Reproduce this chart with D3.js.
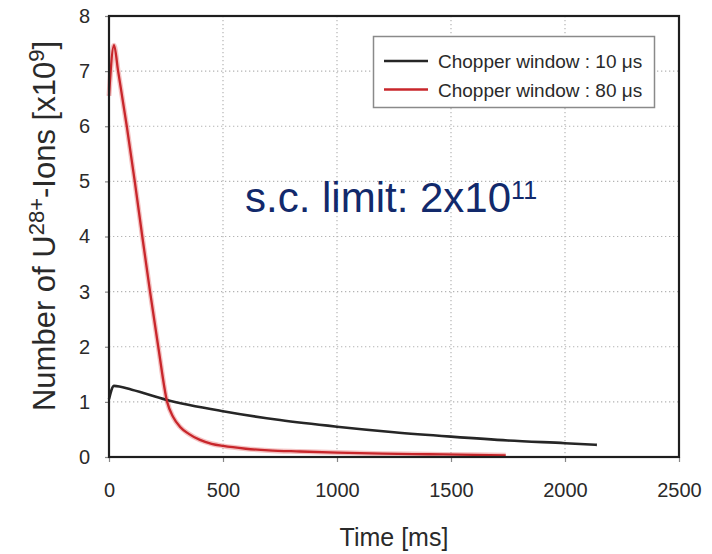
<!DOCTYPE html>
<html>
<head>
<meta charset="utf-8">
<script src="https://cdn.jsdelivr.net/npm/d3@7/dist/d3.min.js"></script>
<style>
  html, body { margin: 0; padding: 0; background: #fff; }
  svg { display: block; font-family: "Liberation Sans", Arial, Helvetica, sans-serif; }
</style>
</head>
<body>
<svg id="chart" width="712" height="554"></svg>
<script>
// Stored ion number (x10^9) versus time for two chopper windows
const timeTicks = [0, 500, 1000, 1500, 2000, 2500];
const ionTicks = [0, 1, 2, 3, 4, 5, 6, 7, 8];

const time10 = [0, 22, 100, 250, 500, 750, 1000, 1250, 1500, 1750, 2000, 2140];
const ions10 = [1.05, 1.29, 1.22, 1.04, 0.83, 0.67, 0.55, 0.45, 0.37, 0.30, 0.25, 0.22];

const time80 = [0, 22, 40, 78, 113, 146, 180, 216, 255, 282, 311, 350, 399, 450, 501, 600, 700, 838, 1000, 1200, 1400, 1600, 1740];
const ions80 = [6.55, 7.47, 7.0, 6.0, 5.0, 4.0, 3.0, 2.0, 1.0, 0.72, 0.55, 0.42, 0.31, 0.24, 0.20, 0.15, 0.12, 0.10, 0.08, 0.06, 0.05, 0.04, 0.03];

const seriesNames = ["Chopper window : 10 \u03bcs", "Chopper window : 80 \u03bcs"];
const seriesColors = ["#262626", "#c8262b"];

const svg = d3.select("#chart");
const plot = { left: 109, right: 679, top: 16, bottom: 457 };

const x = d3.scaleLinear().domain([0, 2500]).range([plot.left, plot.right]);
const y = d3.scaleLinear().domain([0, 8]).range([plot.bottom, plot.top]);

// dotted grid
const grid = svg.append("g").attr("stroke", "#b4b4b4").attr("stroke-width", 1.2)
  .attr("stroke-dasharray", "1.3,2.7");
grid.selectAll("line.v").data(timeTicks.slice(1, -1)).join("line")
  .attr("x1", d => x(d)).attr("x2", d => x(d))
  .attr("y1", plot.top).attr("y2", plot.bottom);
grid.selectAll("line.h").data(ionTicks.slice(1, -1)).join("line")
  .attr("x1", plot.left).attr("x2", plot.right)
  .attr("y1", d => y(d)).attr("y2", d => y(d));

// axes
const xAxis = svg.append("g").attr("transform", `translate(0,${plot.bottom})`)
  .call(d3.axisBottom(x).tickValues(timeTicks).tickSize(5).tickPadding(21).tickFormat(d3.format("d")));
const yAxis = svg.append("g").attr("transform", `translate(${plot.left},0)`)
  .call(d3.axisLeft(y).tickValues(ionTicks).tickSize(4).tickPadding(15).tickFormat(d3.format("d")));
[xAxis, yAxis].forEach(g => {
  g.select(".domain").remove();
  g.selectAll(".tick line").attr("stroke", "#888").attr("stroke-width", 1.2);
  g.selectAll(".tick text").attr("fill", "#2a2a2a").style("font-size", "20px")
    .style("font-family", "'Liberation Sans', Arial, sans-serif");
});

// curves
const line = d3.line().x(d => x(d[0])).y(d => y(d[1])).curve(d3.curveMonotoneX);
const data10 = time10.map((t, i) => [t, ions10[i]]);
const data80 = time80.map((t, i) => [t, ions80[i]]);

svg.append("path").datum(data80).attr("d", line).attr("fill", "none")
  .attr("stroke", "#e77a7a").attr("stroke-opacity", 0.45).attr("stroke-width", 5);
svg.append("path").datum(data10).attr("d", line).attr("fill", "none")
  .attr("stroke", seriesColors[0]).attr("stroke-width", 2.6);
svg.append("path").datum(data80).attr("d", line).attr("fill", "none")
  .attr("stroke", seriesColors[1]).attr("stroke-width", 2.3);

// frame
svg.append("rect").attr("x", plot.left).attr("y", plot.top)
  .attr("width", plot.right - plot.left).attr("height", plot.bottom - plot.top)
  .attr("fill", "none").attr("stroke", "#1e1e1e").attr("stroke-width", 2.2);

// legend
const lg = svg.append("g");
lg.append("rect").attr("x", 373.5).attr("y", 36.5).attr("width", 281).attr("height", 71)
  .attr("fill", "#fff").attr("stroke", "#8a8a8a").attr("stroke-width", 1.5);
seriesNames.forEach((name, i) => {
  const yy = 61 + i * 28.5;
  lg.append("line").attr("x1", 384).attr("x2", 428).attr("y1", yy).attr("y2", yy)
    .attr("stroke", seriesColors[i]).attr("stroke-width", 2.6);
  lg.append("text").attr("x", 438).attr("y", yy + 7).attr("fill", "#2a2a2a")
    .style("font-size", "19px").text(name);
});

// annotation
const note = svg.append("text").attr("x", 245).attr("y", 212).attr("fill", "#12296b")
  .style("font-size", "42px");
note.append("tspan").text("s.c. limit: 2x10");
note.append("tspan").attr("dy", -13).style("font-size", "25px").text("11");

// axis titles
svg.append("text").attr("x", (plot.left + plot.right) / 2).attr("y", 546)
  .attr("text-anchor", "middle").attr("fill", "#2a2a2a").style("font-size", "25px")
  .text("Time [ms]");

const yt = svg.append("text").attr("transform", "translate(55,226) rotate(-90)")
  .attr("text-anchor", "middle").attr("fill", "#2a2a2a").style("font-size", "31px");
yt.append("tspan").text("Number of U");
yt.append("tspan").attr("dy", -11).style("font-size", "22px").text("28+");
yt.append("tspan").attr("dy", 11).text("-Ions [x10");
yt.append("tspan").attr("dy", -11).style("font-size", "22px").text("9");
yt.append("tspan").attr("dy", 11).text("]");
</script>
</body>
</html>
